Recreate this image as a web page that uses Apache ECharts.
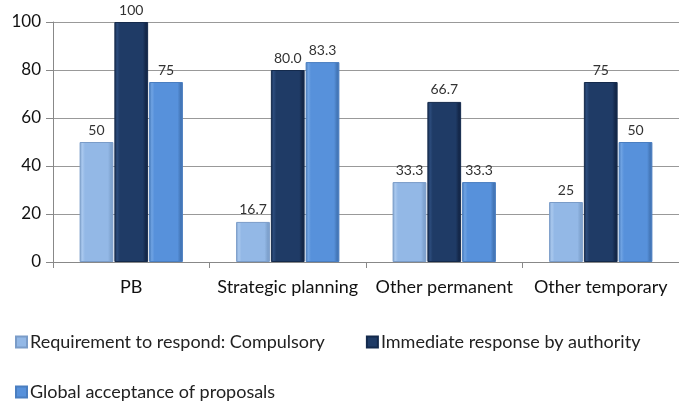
<!DOCTYPE html>
<html>
<head>
<meta charset="utf-8">
<script src="https://cdn.jsdelivr.net/npm/echarts@6/dist/echarts.min.js"></script>
<style>
  html, body { margin: 0; padding: 0; background: #fff; }
  #chart { width: 679px; height: 403px; }
</style>
</head>
<body>
<div id="chart"></div>
<script>
// Categories and series values (kept as text so the labels show the same digits)
const categories = ['PB', 'Strategic planning', 'Other permanent', 'Other temporary'];
const seriesNames = [
  'Requirement to respond: Compulsory',
  'Immediate response by authority',
  'Global acceptance of proposals'
];
const compulsory = ['50', '16.7', '33.3', '25'];
const immediate = ['100', '80.0', '66.7', '75'];
const acceptance = ['75', '83.3', '33.3', '50'];
const yTicks = [0, 20, 40, 60, 80, 100];

const FONT = 'Lato, "Open Sans", sans-serif';

// Horizontal gradient giving the bars a bevelled edge
function bevel(edge, mid, light) {
  return new echarts.graphic.LinearGradient(0, 0, 1, 0, [
    { offset: 0, color: edge },
    { offset: 0.08, color: light },
    { offset: 0.16, color: mid },
    { offset: 0.84, color: mid },
    { offset: 0.93, color: edge },
    { offset: 1, color: edge }
  ]);
}

const styles = [
  { fill: bevel('#7FA3CF', '#93B8E6', '#A9C8EE'), border: '#7A9CC8', icon: '#93B8E6' },
  { fill: bevel('#14284A', '#1F3B66', '#2C4C7C'), border: '#142A4C', icon: '#1F3B66' },
  { fill: bevel('#4477B8', '#5791DB', '#6FA3E3'), border: '#4A7EC0', icon: '#5791DB' }
];

function makeSeries(name, values, st) {
  return {
    name: name,
    type: 'bar',
    barGap: '3%',
    barCategoryGap: '34%',
    data: values.map(v => ({ value: Number(v), label: { formatter: v } })),
    itemStyle: { color: st.fill, borderColor: st.border, borderWidth: 1 },
    label: {
      show: true,
      position: 'top',
      distance: 5,
      fontFamily: FONT,
      fontSize: 14,
      color: '#333'
    }
  };
}

const legendText = { fontFamily: FONT, fontSize: 18, color: '#222', padding: [0, 0, 0, -2] };

const chart = echarts.init(document.getElementById('chart'), null, { renderer: 'canvas' });
chart.setOption({
  animation: false,
  backgroundColor: '#fff',
  color: styles.map(s => s.icon),
  grid: { left: 53, right: 0, top: 22, bottom: 141, containLabel: false },
  legend: [
    {
      data: [seriesNames[0], seriesNames[1]],
      left: 10, top: 328,
      itemWidth: 11, itemHeight: 11, itemGap: 41,
      icon: 'rect',
      textStyle: legendText
    },
    {
      data: [seriesNames[2]],
      left: 10, top: 378,
      itemWidth: 11, itemHeight: 11,
      icon: 'rect',
      textStyle: legendText
    }
  ],
  xAxis: {
    type: 'category',
    data: categories,
    axisLine: { show: true, lineStyle: { color: '#888', width: 1 } },
    axisTick: { show: true, length: 6, alignWithLabel: false, lineStyle: { color: '#888' } },
    axisLabel: { interval: 0, hideOverlap: false, fontFamily: FONT, fontSize: 18, color: '#111', margin: 16 }
  },
  yAxis: {
    type: 'value',
    min: yTicks[0],
    max: yTicks[yTicks.length - 1],
    interval: yTicks[1] - yTicks[0],
    axisLine: { show: true, lineStyle: { color: '#888' } },
    axisTick: { show: true, length: 7, lineStyle: { color: '#888' } },
    axisLabel: { fontFamily: FONT, fontSize: 17, color: '#111', margin: 12 },
    splitLine: { show: true, lineStyle: { color: '#999', width: 1 } }
  },
  series: [
    makeSeries(seriesNames[0], compulsory, styles[0]),
    makeSeries(seriesNames[1], immediate, styles[1]),
    makeSeries(seriesNames[2], acceptance, styles[2])
  ]
});
</script>
</body>
</html>
